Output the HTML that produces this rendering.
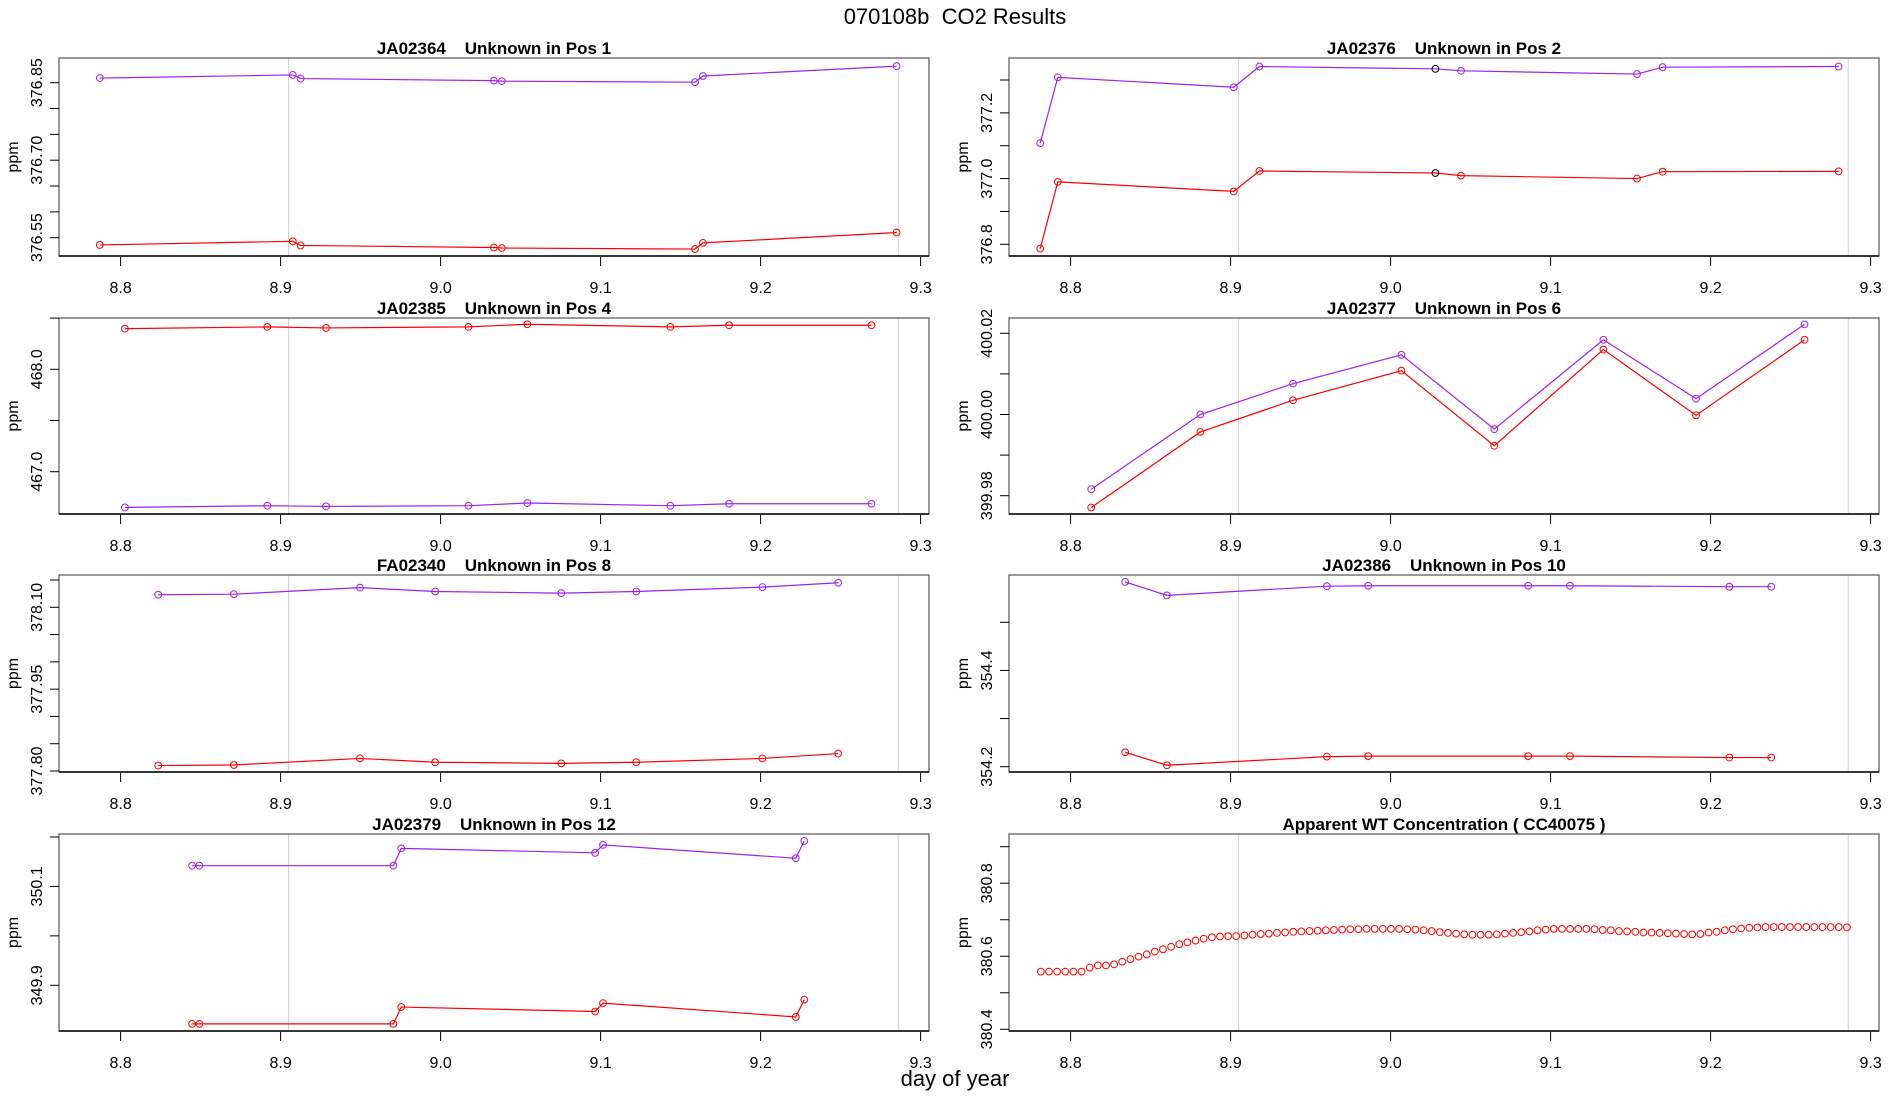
<!DOCTYPE html>
<html><head><meta charset="utf-8"><style>
html,body{margin:0;padding:0;background:#fff;}
svg{display:block;font-family:"Liberation Sans",sans-serif;}
text{white-space:pre;}
</style></head><body>
<svg id="chart" width="1900" height="1100" viewBox="0 0 1900 1100" xmlns="http://www.w3.org/2000/svg" xml:space="preserve">
<text x="955" y="24" font-size="22" text-anchor="middle">070108b  CO2 Results</text>
<text x="955" y="1086" font-size="22" text-anchor="middle">day of year</text>
</svg>
<script>
const xTickLabels = ["8.8","8.9","9.0","9.1","9.2","9.3"];
const xTickValues = [8.8, 8.9, 9.0, 9.1, 9.2, 9.3];
const refLines = [8.905, 9.286];

const p1Time = [8.787, 8.9076, 8.9125, 9.0333, 9.0383, 9.159, 9.164, 9.285];
const p1Purple = [376.859, 376.865, 376.858, 376.854, 376.853, 376.851, 376.863, 376.882];
const p1Red = [376.536, 376.543, 376.535, 376.531, 376.530, 376.528, 376.540, 376.560];

const p2Time = [8.781, 8.792, 8.902, 8.918, 9.028, 9.044, 9.154, 9.170, 9.280];
const p2Purple = [377.108, 377.308, 377.278, 377.341, 377.334, 377.328, 377.318, 377.339, 377.341];
const p2Red = [376.787, 376.990, 376.961, 377.023, 377.017, 377.009, 377.000, 377.021, 377.022];

const p4Time = [8.8027, 8.8917, 8.9284, 9.0174, 9.0542, 9.1436, 9.1803, 9.2693];
const p4Red = [468.397, 468.414, 468.404, 468.414, 468.440, 468.414, 468.430, 468.430];
const p4Purple = [466.651, 466.668, 466.661, 466.668, 466.694, 466.668, 466.687, 466.687];

const p6Time = [8.8129, 8.8811, 8.939, 9.0068, 9.0648, 9.133, 9.1909, 9.2587];
const p6Purple = [399.9816, 400.0, 400.0076, 400.0147, 399.9964, 400.0184, 400.0039, 400.0222];
const p6Red = [399.9771, 399.9957, 400.0035, 400.0108, 399.9923, 400.016, 399.9998, 400.0184];

const p8Time = [8.8235, 8.8708, 8.9496, 8.9966, 9.0754, 9.1223, 9.2011, 9.2485];
const p8Purple = [378.123, 378.124, 378.136, 378.129, 378.126, 378.129, 378.137, 378.145];
const p8Red = [377.810, 377.811, 377.823, 377.816, 377.814, 377.816, 377.823, 377.832];

const p10Time = [8.8341, 8.8602, 8.9602, 8.986, 9.086, 9.1121, 9.2117, 9.2379];
const p10Purple = [354.584, 354.556, 354.575, 354.576, 354.576, 354.576, 354.574, 354.574];
const p10Red = [354.230, 354.203, 354.221, 354.222, 354.222, 354.222, 354.219, 354.219];

const p12Time = [8.8447, 8.8492, 8.9705, 8.9754, 9.0966, 9.1015, 9.222, 9.2273];
const p12Purple = [350.142, 350.142, 350.142, 350.177, 350.168, 350.184, 350.157, 350.192];
const p12Red = [349.822, 349.822, 349.822, 349.856, 349.847, 349.864, 349.836, 349.871];

const wtStart = 8.7814, wtStep = 0.005089;
const wtValues = [
380.558,380.558,380.558,380.558,380.558,380.558,380.569,380.575,380.575,380.578,
380.585,380.592,380.599,380.605,380.613,380.619,380.626,380.633,380.638,380.643,
380.648,380.652,380.654,380.655,380.655,380.657,380.659,380.661,380.662,380.664,
380.665,380.667,380.668,380.669,380.670,380.671,380.672,380.673,380.674,380.674,
380.675,380.675,380.675,380.675,380.675,380.674,380.673,380.671,380.669,380.666,
380.664,380.662,380.660,380.659,380.659,380.659,380.660,380.662,380.664,380.666,
380.668,380.671,380.673,380.675,380.675,380.675,380.675,380.675,380.674,380.672,
380.671,380.669,380.668,380.667,380.665,380.665,380.664,380.663,380.662,380.661,
380.660,380.661,380.665,380.667,380.671,380.674,380.676,380.678,380.679,380.680,
380.680,380.680,380.680,380.680,380.680,380.680,380.680,380.680,380.680,380.679];
const wtTime = wtValues.map((v,i)=>wtStart+i*wtStep);

const NS = "http://www.w3.org/2000/svg";
const svg = document.getElementById('chart');
function mk(tag, attrs, parent){
  const e = document.createElementNS(NS, tag);
  for (const k in attrs) e.setAttribute(k, attrs[k]);
  (parent||svg).appendChild(e);
  return e;
}
const PURPLE = "#a020f0", RED = "#ff0000";

const panels = [
 {name:"pos1", title:"JA02364    Unknown in Pos 1", col:0, top:58, bot:256, ya:[376.85,82.7], yb:[376.55,237.7],
  ticks:[376.55,376.60,376.65,376.70,376.75,376.80,376.85], labels:[376.55,376.70,376.85], dec:2,
  series:[[p1Time,p1Purple,PURPLE],[p1Time,p1Red,RED]]},
 {name:"pos2", title:"JA02376    Unknown in Pos 2", col:1, top:58, bot:256, ya:[377.3,80], yb:[376.8,244.3],
  ticks:[376.8,376.9,377.0,377.1,377.2,377.3], labels:[376.8,377.0,377.2], dec:1,
  series:[[p2Time,p2Purple,PURPLE],[p2Time,p2Red,RED]], black:4},
 {name:"pos4", title:"JA02385    Unknown in Pos 4", col:0, top:318, bot:514, ya:[468.0,369.3], yb:[467.0,471.7],
  ticks:[467.0,467.5,468.0,468.5], labels:[467.0,468.0], dec:1,
  series:[[p4Time,p4Red,RED],[p4Time,p4Purple,PURPLE]]},
 {name:"pos6", title:"JA02377    Unknown in Pos 6", col:1, top:318, bot:514, ya:[400.02,333.3], yb:[399.98,495.7],
  ticks:[399.98,399.99,400.00,400.01,400.02], labels:[399.98,400.00,400.02], dec:2,
  series:[[p6Time,p6Purple,PURPLE],[p6Time,p6Red,RED]]},
 {name:"pos8", title:"FA02340    Unknown in Pos 8", col:0, top:575, bot:772, ya:[378.10,607.3], yb:[377.80,771],
  ticks:[377.80,377.85,377.90,377.95,378.00,378.05,378.10,378.15], labels:[377.80,377.95,378.10], dec:2,
  series:[[p8Time,p8Purple,PURPLE],[p8Time,p8Red,RED]]},
 {name:"pos10", title:"JA02386    Unknown in Pos 10", col:1, top:575, bot:772, ya:[354.5,622.3], yb:[354.2,766.7],
  ticks:[354.2,354.3,354.4,354.5], labels:[354.2,354.4], dec:1,
  series:[[p10Time,p10Purple,PURPLE],[p10Time,p10Red,RED]]},
 {name:"pos12", title:"JA02379    Unknown in Pos 12", col:0, top:834, bot:1031, ya:[350.2,837], yb:[349.9,985.3],
  ticks:[349.9,350.0,350.1,350.2], labels:[349.9,350.1], dec:1,
  series:[[p12Time,p12Purple,PURPLE],[p12Time,p12Red,RED]]},
 {name:"wt-concentration", title:"Apparent WT Concentration ( CC40075 )", col:1, top:834, bot:1031, ya:[380.9,846.7], yb:[380.4,1029.3],
  ticks:[380.4,380.5,380.6,380.7,380.8,380.9], labels:[380.4,380.6,380.8], dec:1,
  series:[[wtTime,wtValues,RED,true]]}
];

panels.forEach(p=>{
  const off = p.col*950;
  const L = 59+off, R = 929+off;
  const xs = v => 120.6+off + (v-8.8)*1600;
  const ys = v => p.yb[1] + (v-p.yb[0])*(p.ya[1]-p.yb[1])/(p.ya[0]-p.yb[0]);
  const g = mk('g', {});
  
  
  const t = mk('text', {x:(L+R)/2, y:p.top-4, 'font-size':17, 'font-weight':'bold', 'text-anchor':'middle'}, g);
  
  
  t.textContent = p.title;
  refLines.forEach(v=>{
    const l = mk('line', {x1:xs(v), x2:xs(v), y1:p.top, y2:p.bot, stroke:'#d0d0d0', 'stroke-width':1}, g);
    
    
  });
  const box = mk('rect', {x:L, y:p.top, width:R-L, height:p.bot-p.top, fill:'none', stroke:'#555', 'stroke-width':1.2}, g);
  
  
  mk('line', {x1:L, x2:R, y1:p.bot, y2:p.bot, stroke:'#000', 'stroke-width':1.5}, g);
  xTickValues.forEach((v,i)=>{
    mk('line', {x1:xs(v), x2:xs(v), y1:p.bot+1, y2:p.bot+10, stroke:'#000', 'stroke-width':1}, g);
    const tl = mk('text', {x:xs(v), y:p.bot+37, 'font-size':16, 'text-anchor':'middle'}, g);
    
    
    tl.textContent = xTickLabels[i];
  });
  p.ticks.forEach(v=>{
    mk('line', {x1:L-9, x2:L, y1:ys(v), y2:ys(v), stroke:'#000', 'stroke-width':1}, g);
  });
  p.labels.forEach(v=>{
    const y = ys(v);
    const tl = mk('text', {x:0, y:0, 'font-size':16, 'text-anchor':'middle', transform:`translate(${off+42},${y}) rotate(-90)`}, g);
    
    
    tl.textContent = v.toFixed(p.dec);
  });
  const yl = mk('text', {x:0, y:0, 'font-size':16, 'text-anchor':'middle', transform:`translate(${off+18},${(p.top+p.bot)/2}) rotate(-90)`}, g);
  
  
  yl.textContent = 'ppm';
  p.series.forEach(s=>{
    const [tx, vy, col, pointsOnly] = s;
    if(!pointsOnly){
      const pl = mk('polyline', {points: tx.map((t,i)=>xs(t)+','+ys(vy[i])).join(' '), fill:'none', stroke:col, 'stroke-width':1.2}, g);
      
      
    }
    tx.forEach((t,i)=>{
      const c = mk('circle', {cx:xs(t), cy:ys(vy[i]), r:3.4, fill:'none', stroke:(p.black===i?'#000':col), 'stroke-width':1}, g);
      
      
    });
  });
});
</script>
</body></html>
